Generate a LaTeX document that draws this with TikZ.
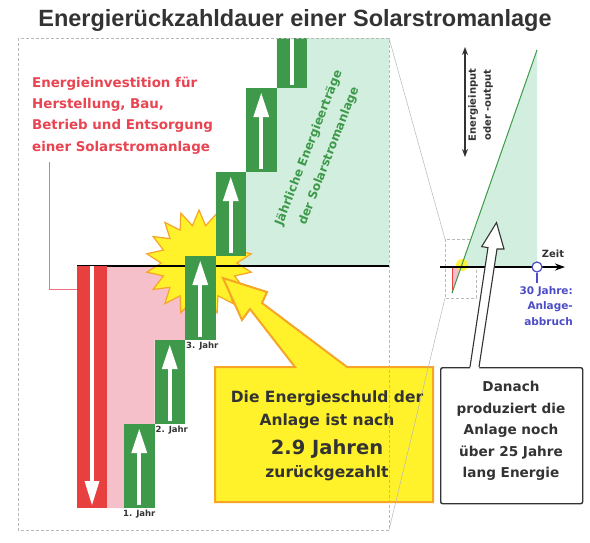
\documentclass[tikz,border=0pt]{standalone}
\usepackage{fontspec}
\setmainfont{DejaVu Sans}
\newfontfamily\titlefont{Liberation Sans}
\usetikzlibrary{arrows.meta,shapes.geometric}
\definecolor{dkgreen}{HTML}{3E9A4A}
\definecolor{ltgreen}{HTML}{D2EEDF}
\definecolor{pinkf}{HTML}{F5C0CA}
\definecolor{redbar}{HTML}{E8403F}
\definecolor{redtxt}{HTML}{E84452}
\definecolor{yel}{HTML}{FFF22A}
\definecolor{orng}{HTML}{F6A526}
\definecolor{bluetxt}{HTML}{4C4CC6}
\definecolor{dgray}{HTML}{333333}
\definecolor{framegray}{HTML}{B8B8B8}
\begin{document}
\begin{tikzpicture}[x=1pt,y=-1pt,
  gbox/.style={fill=dkgreen, minimum width=30.5pt, minimum height=84pt, inner sep=0pt, outer sep=0pt},
  steplbl/.style={font=\bfseries\fontsize{8.5}{10}\selectfont, text=dgray, inner sep=0pt},
  framestyle/.style={draw=framegray, dash pattern=on 3pt off 2pt, line width=0.6pt},
  zoomline/.style={draw=framegray, line width=0.5pt},
  redlbl/.style={font=\bfseries\fontsize{13.4}{21.4}\selectfont, text=redtxt, align=left, inner sep=0pt},
  greenlbl/.style={font=\bfseries\fontsize{12}{21.5}\selectfont, text=dkgreen, align=center, inner sep=0pt},
  yellbl/.style={font=\bfseries\fontsize{15.5}{23}\selectfont, text=dgray, align=center, inner sep=0pt},
  boxlbl/.style={font=\bfseries\fontsize{13.6}{21.5}\selectfont, text=dgray, align=center, inner sep=0pt},
  smalllbl/.style={font=\bfseries\fontsize{10}{15}\selectfont, inner sep=0pt},
  bluelbl/.style={font=\bfseries\fontsize{10.5}{15.5}\selectfont, text=bluetxt, align=right, inner sep=0pt}]
\useasboundingbox (0,0) rectangle (590,542);
\fill[white] (0,0) rectangle (590,542);

% title
\node[font=\titlefont\bfseries\fontsize{23.5}{28}\selectfont, text=dgray, anchor=base, inner sep=0pt] (title) at (295,26) {Energierückzahldauer einer Solarstromanlage};

% named corners
\coordinate (frTL) at (18,38);
\coordinate (frTR) at (389,38);
\coordinate (frBR) at (389,530);
\coordinate (zTL) at (445,239);
\coordinate (zBL) at (445,298);

% fills
\fill[pinkf] (107,266) -- (185,266) -- (185,340) -- (154.5,340) -- (154.5,424) -- (124,424) -- (124,508) -- (107,508) -- cycle;
\fill[ltgreen] (215.5,266) -- (215.5,172) -- (246,172) -- (246,88) -- (276.5,88) -- (276.5,38) -- (389,38) -- (389,266) -- cycle;

% starburst
\node[star, star points=18, star point ratio=1.4, minimum size=106pt, inner sep=0pt, fill=yel, draw=orng, line width=1.2pt] (burst) at (199,263) {};

% axis
\coordinate (axL) at (77,266);
\coordinate (axR) at (389,266);
\draw[line width=2.2pt, black] (axL) -- (axR);

% red bar
\node[fill=redbar, minimum width=30pt, minimum height=242pt, inner sep=0pt, outer sep=0pt, anchor=north west] (redbar) at (77,266) {};
\fill[white] (89.8,266) rectangle (94.2,482);
\fill[white] (84.5,481) -- (99.5,481) -- (92,505) -- cycle;

% green steps
\begin{scope}
\clip (18,38) rectangle (389,530);
\foreach \i in {0,...,5} {
  \pgfmathsetmacro\xl{124+30.5*\i}
  \pgfmathsetmacro\yb{508-84*\i}
  \pgfmathsetmacro\xc{\xl+15.25}
  \pgfmathsetmacro\yt{\yb-84}
  \node[gbox, anchor=south west] (box\i) at (\xl,\yb) {};
  \fill[white] (\xc-2,\yb-3) rectangle (\xc+2,\yt+28);
  \fill[white] (\xc-8,\yt+29) -- (\xc+8,\yt+29) -- (\xc,\yt+5) -- cycle;
}
\end{scope}
\node[steplbl, anchor=west] (lab1) at (123,514) {1. Jahr};
\node[steplbl, anchor=west] (lab2) at (155.5,430) {2. Jahr};
\node[steplbl, anchor=west] (lab3) at (186,346) {3. Jahr};

% yellow callout
\draw[fill=yel, draw=orng, line width=2pt, line join=miter] (215,367) -- (295,367) -- (250,309) -- (242,320) -- (223,278) -- (267,292) -- (262,303) -- (347,367) -- (433,367) -- (433,502) -- (215,502) -- cycle;
\node[yellbl] (debt) at (327,436) {Die Energieschuld der\\Anlage ist nach\\[6pt]{\fontsize{19.5}{23}\selectfont 2.9 Jahren}\\zurückgezahlt};

% red label + connector
\node[redlbl, anchor=north west] (invest) at (32,76.5) {Energieinvestition für\\Herstellung, Bau,\\Betrieb und Entsorgung\\einer Solarstromanlage};
\coordinate (rlTop) at (49,162);
\coordinate (rlEnd) at (77,289);
\draw[draw=redtxt!75, line width=0.9pt] (rlTop) |- (rlEnd);

% green rotated label
\node[greenlbl, rotate=68.8] (yield) at (319,152) {Jährliche Energieerträge\\der Solarstromanlage};

% frame
\draw[framestyle] (frTL) rectangle (frBR);

% ---- right mini diagram ----
\draw[zoomline] (frTR) -- (zTL);
\draw[zoomline] (frBR) -- (zBL);
\draw[framestyle] (445,239) rectangle (476,298);
\fill[ltgreen] (461,267) -- (537,50) -- (537,267) -- cycle;
\fill[pinkf] (452,267) -- (461,267) -- (452,293) -- cycle;
\draw[draw=redbar, line width=0.8pt] (452,267) -- (452,293);
\fill[yel, opacity=0.9] (462,265) circle (6);
\coordinate (glA) at (452,293);
\coordinate (glB) at (537,50);
\draw[draw=dkgreen, line width=1pt] (glA) -- (glB);
\coordinate (maL) at (440,267);
\coordinate (maR) at (565,267);
\draw[line width=1.8pt, -{Stealth[length=10pt,width=7pt]}] (maL) -- (maR);
\node[circle, draw=bluetxt, fill=white, line width=1.2pt, minimum size=10pt, inner sep=0pt] (end30) at (537,267) {};
\coordinate (end30b) at (537,283);
\draw[draw=bluetxt, line width=1.2pt] (end30.south) -- (end30b);
\node[smalllbl, text=dgray] (zeit) at (553,254) {Zeit};
\node[bluelbl, anchor=north east] (abbruch) at (573,286) {30 Jahre:\\Anlage-\\abbruch};
\coordinate (daTop) at (465,47);
\coordinate (daBot) at (465,157);
\draw[draw=dgray, line width=1.4pt, {Stealth[length=8pt,width=6pt]}-{Stealth[length=8pt,width=6pt]}] (daBot) -- (daTop);
\node[smalllbl, text=dgray, align=center, rotate=90] (eio) at (480.5,105) {Energieinput\\oder -output};

% Danach box with hollow arrow
\node[draw=dgray, line width=1.4pt, fill=white, rounded corners=2pt, minimum width=142pt, minimum height=136pt, inner sep=0pt, anchor=north west] (danach) at (440,367) {};
\fill[white] (470,369) -- (488,247.6) -- (481.7,246.6) -- (496.5,222.6) -- (504,249) -- (497,249) -- (479,369) -- cycle;
\draw[draw=dgray, line width=1.1pt, line join=miter] (470,367) -- (488,247.6) -- (481.7,246.6) -- (496.5,222.6) -- (504,249) -- (497,249) -- (479,367);
\node[boxlbl] (danachtxt) at (511,431) {Danach\\produziert die\\Anlage noch\\über 25 Jahre\\lang Energie};
\end{tikzpicture}
\end{document}
